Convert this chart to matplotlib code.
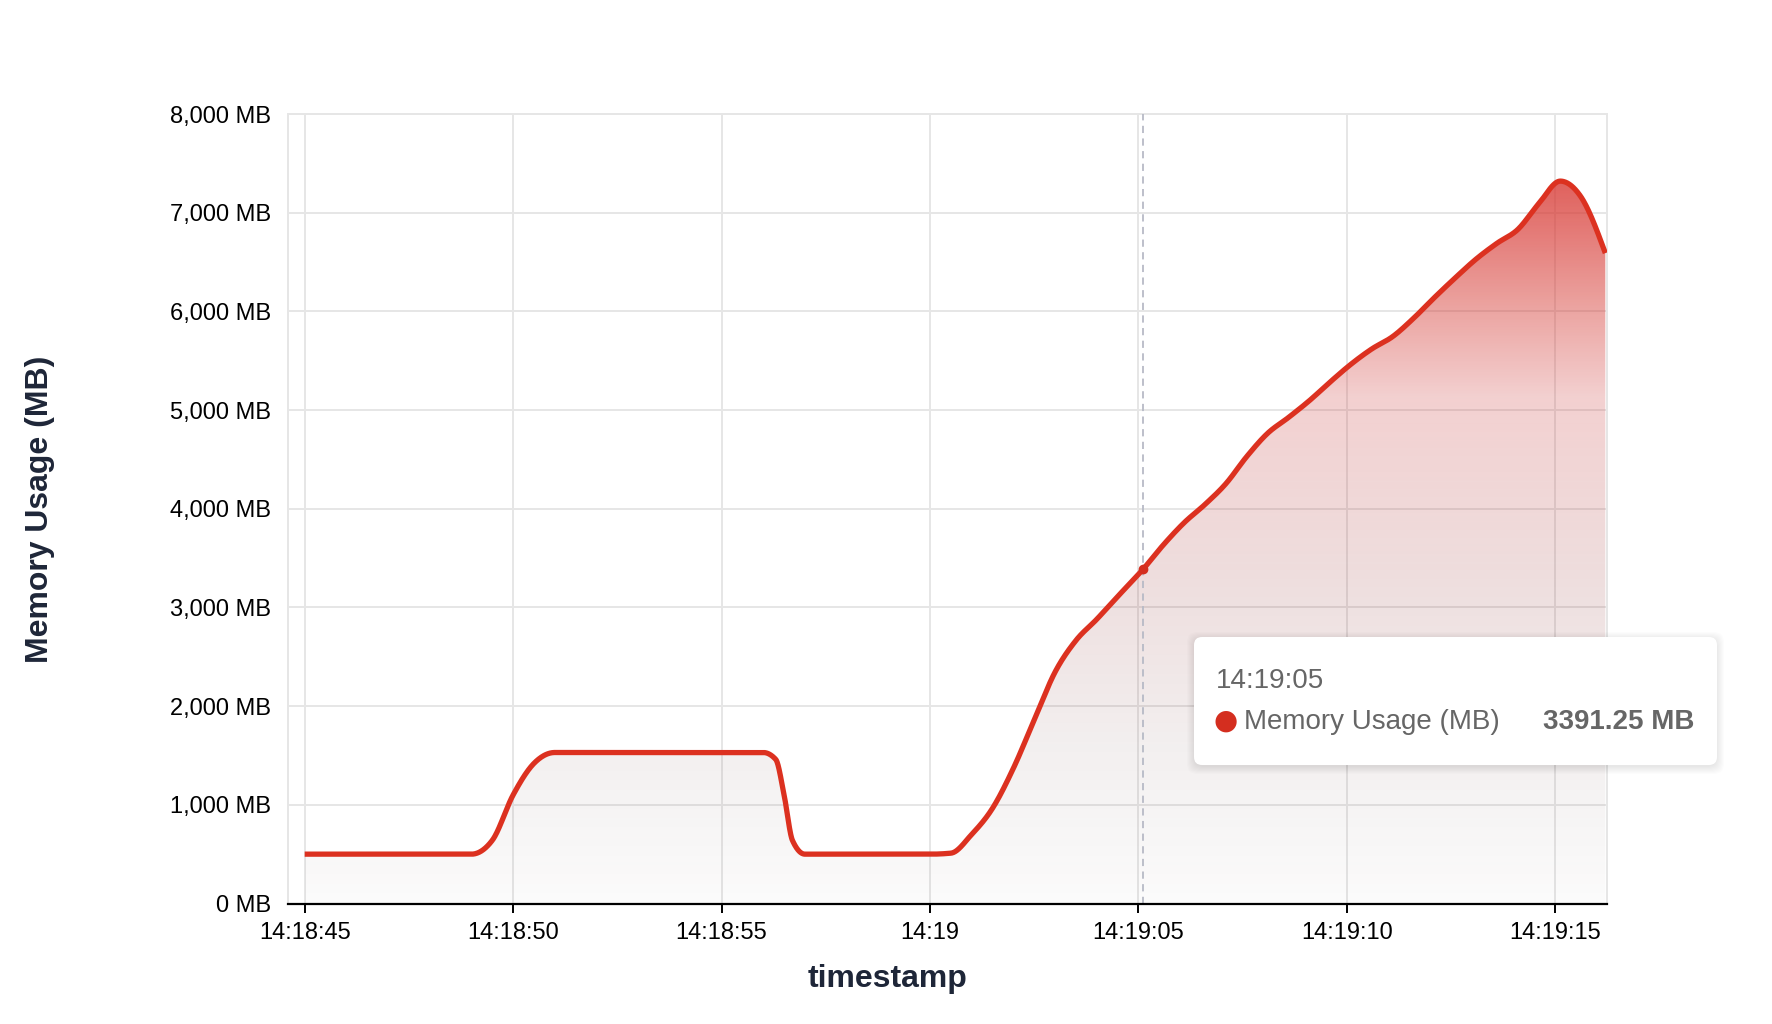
import numpy as np
import matplotlib
matplotlib.use('Agg')
import matplotlib.pyplot as plt
from matplotlib.patches import FancyBboxPatch, Polygon

plt.rcParams['font.family'] = ['Liberation Sans', 'DejaVu Sans']

# seconds after 14:18:00
secs = [45, 46, 47, 48, 49, 49.5, 50, 50.5, 51, 52, 53, 54, 55, 56, 56.3, 56.5, 56.7, 57,
        58, 59, 60, 60.5, 61, 61.5, 62, 62.5, 63, 63.5, 64, 64.5, 65.12, 65.6,
        66.1, 66.6, 67.1, 67.6, 68.1, 68.6, 69.1, 69.6, 70.1, 70.6, 71.1, 71.6,
        72.1, 72.6, 73.1, 73.6, 74.1, 74.6, 75.12, 75.6, 76.2]
mem = [500, 500, 500, 500, 500, 640, 1100, 1420, 1530, 1530, 1530, 1530, 1530, 1530, 1460, 1100, 640, 500,
       500, 500, 500, 510, 700, 965, 1370, 1860, 2345, 2665, 2880, 3110, 3391.25, 3635,
       3860, 4045, 4255, 4530, 4765, 4925, 5095, 5285, 5465, 5620, 5745, 5930,
       6140, 6340, 6530, 6690, 6830, 7090, 7320, 7170, 6590]

tick_secs = [45, 50, 55, 60, 65, 70, 75]
tick_labels = ['14:18:45', '14:18:50', '14:18:55', '14:19', '14:19:05', '14:19:10', '14:19:15']
y_ticks = [0, 1000, 2000, 3000, 4000, 5000, 6000, 7000, 8000]

hover_idx = 30


def monotone(x, y, n=40):
    # monotone cubic (same idea as d3 curveMonotoneX)
    x = np.asarray(x, float)
    y = np.asarray(y, float)
    h = np.diff(x)
    s = np.diff(y) / h
    m = np.zeros_like(y)
    for i in range(1, len(x) - 1):
        p = (s[i - 1] * h[i] + s[i] * h[i - 1]) / (h[i - 1] + h[i])
        m[i] = (np.sign(s[i - 1]) + np.sign(s[i])) * min(abs(s[i - 1]), abs(s[i]), 0.5 * abs(p))
    m[0] = (3 * s[0] - m[1]) / 2
    m[-1] = (3 * s[-1] - m[-2]) / 2
    xs, ys = [], []
    for i in range(len(x) - 1):
        t = np.linspace(0, 1, n, endpoint=False)
        h00 = 2 * t**3 - 3 * t**2 + 1
        h10 = t**3 - 2 * t**2 + t
        h01 = -2 * t**3 + 3 * t**2
        h11 = t**3 - t**2
        xs.append(x[i] + t * h[i])
        ys.append(h00 * y[i] + h10 * h[i] * m[i] + h01 * y[i + 1] + h11 * h[i] * m[i + 1])
    xs.append([x[-1]])
    ys.append([y[-1]])
    return np.concatenate(xs), np.concatenate(ys)


W, H = 1772, 1024
fig = plt.figure(figsize=(W / 100, H / 100), dpi=100)
fig.patch.set_facecolor('white')
L, R, T, B = 288, 1607, 114, 903.5
ax = fig.add_axes([L / W, 1 - B / H, (R - L) / W, (B - T) / H])

xs, ys = monotone(secs, mem)

ax.set_xlim(44.6, 76.24)
ax.set_ylim(0, 8000)

# gradient fill under the curve
top = ys.max()
stops = [(0.0, (251, 251, 251), 0.02), (0.2, (243, 240, 240), 0.08), (0.44, (238, 222, 222), 0.15),
         (0.70, (243, 208, 208), 0.24), (0.82, (236, 165, 162), 0.45), (1.0, (224, 96, 92), 0.80)]
fr = np.linspace(0, 1, 300)
img = np.zeros((300, 1, 4))
for k in range(3):
    tgt = np.interp(fr, [s[0] for s in stops], [s[1][k] for s in stops])
    a = np.interp(fr, [s[0] for s in stops], [s[2] for s in stops])
    img[:, 0, k] = np.clip(255 - (255 - tgt) / a, 0, 255) / 255
img[:, 0, 3] = np.interp(fr, [s[0] for s in stops], [s[2] for s in stops])
poly = Polygon(np.column_stack([np.r_[xs, xs[-1], xs[0]], np.r_[ys, 0, 0]]),
               closed=True, facecolor='none', edgecolor='none')
ax.add_patch(poly)
im = ax.imshow(img, extent=[xs[0], xs[-1], 0, top], origin='lower', aspect='auto',
               interpolation='bilinear', zorder=2)
im.set_clip_path(poly)

ax.plot(xs, ys, color='#dc3120', lw=3.8, solid_capstyle='butt', zorder=4)

# hover line + point
ax.axvline(secs[hover_idx], color='#b7bac6', lw=1.3, ls=(0, (4, 3)), zorder=3)
ax.plot(secs[hover_idx], mem[hover_idx], 'o', color='#d42e1f', ms=6, zorder=5)

ax.set_xticks(tick_secs)
ax.set_xticklabels(tick_labels)
ax.set_yticks(y_ticks)
ax.set_yticklabels([f'{v:,} MB' for v in y_ticks])
ax.grid(True, color='#e6e6e6', lw=1.4, zorder=0)
ax.set_axisbelow(True)
ax.tick_params(axis='x', length=6.5, width=1.4, color='black', pad=7, labelsize=17)
ax.tick_params(axis='y', length=0, pad=12, labelsize=17)
for side in ['left', 'right', 'top']:
    ax.spines[side].set_color('#e6e6e6')
    ax.spines[side].set_linewidth(1.4)
ax.spines['bottom'].set_color('black')
ax.spines['bottom'].set_linewidth(1.6)
ax.spines['bottom'].set_zorder(6)

fig.text(888 / W, 1 - 979 / H, 'timestamp', ha='center', va='center',
         fontsize=23, fontweight='bold', color='#1e2638')
fig.text(40 / W, 1 - 509 / H, 'Memory Usage (MB)', ha='center', va='center', rotation=90,
         fontsize=23, fontweight='bold', color='#1e2638')

# tooltip
bx, by, bw, bh = 11.94, (H - 765) / 100, 5.23, 1.28
for i in range(8):
    sh = FancyBboxPatch((bx - 0.01 * i, by - 0.02 - 0.01 * i), bw + 0.02 * i, bh + 0.02 * i,
                        boxstyle='round,pad=0,rounding_size=0.1', transform=fig.dpi_scale_trans,
                        facecolor='black', edgecolor='none', alpha=0.012, zorder=10)
    fig.patches.append(sh)
box = FancyBboxPatch((bx, by), bw, bh, boxstyle='round,pad=0,rounding_size=0.08',
                     transform=fig.dpi_scale_trans, facecolor='white', edgecolor='none', zorder=11)
fig.patches.append(box)
fig.text(1216 / W, 1 - 681 / H, tick_labels[4], ha='left', va='center', fontsize=20, color='#666666', zorder=12)
fig.text(1244 / W, 1 - 722 / H, 'Memory Usage (MB)', ha='left', va='center', fontsize=20, color='#666666', zorder=12)
fig.text(1694 / W, 1 - 722 / H, f'{mem[hover_idx]:.2f} MB', ha='right', va='center', fontsize=20,
         fontweight='bold', color='#666666', zorder=12)
fig.text(1226 / W, 1 - 721 / H, '\u25cf', ha='center', va='center', fontsize=20, color='#d42e1f',
         family='DejaVu Sans', zorder=12)

fig.savefig('out.png', dpi=100)
